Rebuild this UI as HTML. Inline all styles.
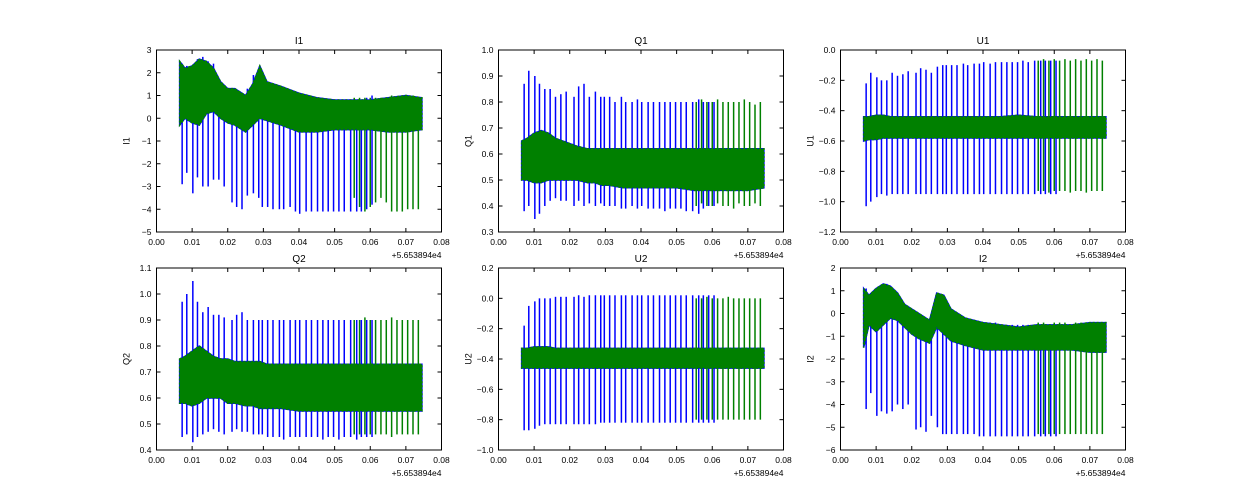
<!DOCTYPE html>
<html><head><meta charset="utf-8"><style>
body{margin:0;background:#fff;}
svg{display:block;font-family:"Liberation Sans",sans-serif;}
</style></head><body>
<svg id="chart" width="1250" height="500" viewBox="0 0 1250 500"></svg>
<script>
const xTicks=[0,0.01,0.02,0.03,0.04,0.05,0.06,0.07,0.08];
const blueX=[0.0072,0.0085,0.0102,0.0115,0.013,0.0145,0.016,0.0175,0.019,0.0212,0.0225,0.024,0.0255,0.0272,0.0287,0.0297,0.0312,0.0327,0.0345,0.0357,0.0375,0.039,0.0402,0.042,0.0435,0.0452,0.0467,0.0482,0.0497,0.0512,0.0527,0.0545,0.0562,0.0575,0.059,0.0605];
const greenX=[0.0555,0.057,0.0585,0.06,0.0615,0.063,0.0645,0.066,0.0675,0.069,0.0705,0.072,0.0735];
const bandX=[0.0065,0.008,0.01,0.012,0.014,0.016,0.018,0.02,0.022,0.025,0.027,0.029,0.031,0.035,0.04,0.045,0.05,0.055,0.06,0.065,0.07,0.0745];

const i1BandHi=[2.5,2.2,2.3,2.6,2.5,2.2,1.6,1.3,1.3,1.0,1.5,2.3,1.6,1.4,1.1,0.9,0.8,0.8,0.8,0.9,1.0,0.9];
const i1BandLo=[-0.3,0.0,-0.2,-0.3,0.2,0.3,0.0,-0.2,-0.3,-0.6,-0.3,0.0,-0.1,-0.3,-0.6,-0.6,-0.5,-0.5,-0.5,-0.6,-0.6,-0.5];
const i1BlueLo=[-2.9,-2.4,-3.3,-2.6,-3.0,-3.0,-2.7,-2.7,-3.0,-3.7,-3.9,-4.0,-3.4,-3.3,-3.5,-3.9,-3.9,-4.0,-4.0,-4.0,-3.9,-4.1,-4.2,-4.1,-4.1,-4.1,-4.1,-4.1,-4.1,-4.1,-4.1,-4.1,-4.1,-4.1,-4.0,-3.8];
const i1BlueHi=[2.4,2.3,2.2,2.6,2.7,2.5,2.4,1.5,1.2,1.1,1.0,1.0,1.3,1.9,1.5,1.3,1.2,1.1,1.0,1.0,1.0,0.9,0.9,0.9,0.9,0.8,0.8,0.8,0.8,0.8,0.8,0.8,0.8,0.8,0.9,1.0];
const i1GreenLo=[-3.5,-3.9,-4.1,-3.9,-3.7,-3.5,-3.7,-4.1,-4.1,-4.1,-4.0,-4.0,-4.0];
const i1GreenHi=[0.9,0.9,0.9,0.9,0.9,0.9,0.9,1.0,0.9,1.0,0.9,1.0,0.9];

const q1BandHi=[0.65,0.66,0.68,0.69,0.68,0.66,0.65,0.64,0.63,0.62,0.62,0.62,0.62,0.62,0.62,0.62,0.62,0.62,0.62,0.62,0.62,0.62];
const q1BandLo=[0.5,0.5,0.49,0.49,0.5,0.5,0.5,0.5,0.5,0.49,0.49,0.48,0.48,0.47,0.47,0.47,0.47,0.46,0.46,0.46,0.46,0.47];
const q1BlueHi=[0.87,0.92,0.9,0.87,0.85,0.85,0.82,0.83,0.84,0.82,0.86,0.87,0.82,0.84,0.82,0.82,0.82,0.8,0.82,0.8,0.8,0.81,0.8,0.8,0.8,0.8,0.8,0.8,0.8,0.8,0.8,0.8,0.81,0.8,0.8,0.8];
const q1BlueLo=[0.38,0.4,0.35,0.37,0.4,0.42,0.43,0.42,0.42,0.4,0.42,0.4,0.41,0.4,0.41,0.4,0.4,0.4,0.39,0.39,0.4,0.39,0.4,0.39,0.39,0.39,0.38,0.39,0.39,0.39,0.38,0.38,0.37,0.39,0.4,0.4];
const q1GreenHi=[0.8,0.81,0.8,0.8,0.81,0.8,0.8,0.8,0.8,0.81,0.8,0.79,0.8];
const q1GreenLo=[0.4,0.41,0.4,0.4,0.41,0.4,0.4,0.39,0.41,0.4,0.4,0.41,0.4];

const u1BandHi=[-0.44,-0.44,-0.43,-0.43,-0.44,-0.44,-0.44,-0.44,-0.44,-0.44,-0.44,-0.44,-0.44,-0.44,-0.44,-0.44,-0.43,-0.44,-0.44,-0.44,-0.44,-0.44];
const u1BandLo=[-0.6,-0.59,-0.59,-0.58,-0.58,-0.58,-0.58,-0.58,-0.58,-0.58,-0.58,-0.58,-0.58,-0.58,-0.58,-0.58,-0.58,-0.58,-0.58,-0.58,-0.58,-0.58];
const u1BlueHi=[-0.22,-0.15,-0.18,-0.2,-0.2,-0.15,-0.17,-0.16,-0.14,-0.15,-0.12,-0.13,-0.15,-0.11,-0.1,-0.1,-0.1,-0.1,-0.09,-0.1,-0.09,-0.09,-0.08,-0.09,-0.08,-0.08,-0.08,-0.08,-0.08,-0.07,-0.08,-0.07,-0.07,-0.07,-0.07,-0.07];
const u1BlueLo=[-1.03,-1.0,-0.97,-0.95,-0.96,-0.95,-0.95,-0.95,-0.95,-0.95,-0.95,-0.95,-0.95,-0.95,-0.95,-0.95,-0.95,-0.95,-0.95,-0.95,-0.95,-0.95,-0.95,-0.95,-0.95,-0.95,-0.95,-0.95,-0.95,-0.95,-0.95,-0.95,-0.95,-0.95,-0.95,-0.95];
const u1GreenHi=[-0.07,-0.06,-0.07,-0.06,-0.07,-0.06,-0.07,-0.06,-0.07,-0.06,-0.07,-0.06,-0.07];
const u1GreenLo=[-0.93,-0.93,-0.94,-0.93,-0.93,-0.93,-0.94,-0.93,-0.93,-0.94,-0.93,-0.93,-0.93];

const q2BandHi=[0.75,0.76,0.78,0.8,0.78,0.76,0.75,0.75,0.74,0.74,0.74,0.74,0.73,0.73,0.73,0.73,0.73,0.73,0.73,0.73,0.73,0.73];
const q2BandLo=[0.58,0.58,0.57,0.58,0.6,0.6,0.6,0.58,0.58,0.57,0.57,0.56,0.56,0.56,0.55,0.55,0.55,0.55,0.55,0.55,0.55,0.55];
const q2BlueHi=[0.97,1.0,1.05,0.97,0.93,0.95,0.92,0.92,0.91,0.9,0.92,0.93,0.9,0.9,0.9,0.9,0.9,0.9,0.9,0.9,0.9,0.9,0.9,0.9,0.9,0.9,0.9,0.9,0.9,0.9,0.9,0.9,0.9,0.9,0.9,0.9];
const q2BlueLo=[0.45,0.46,0.43,0.45,0.46,0.47,0.48,0.47,0.46,0.47,0.48,0.47,0.47,0.46,0.46,0.46,0.45,0.45,0.45,0.44,0.45,0.45,0.45,0.45,0.45,0.45,0.44,0.45,0.45,0.44,0.45,0.45,0.44,0.45,0.45,0.45];
const q2GreenHi=[0.9,0.9,0.91,0.9,0.9,0.9,0.9,0.91,0.9,0.9,0.9,0.9,0.9];
const q2GreenLo=[0.46,0.46,0.46,0.46,0.46,0.46,0.46,0.45,0.46,0.46,0.46,0.46,0.46];

const u2BandHi=[-0.33,-0.33,-0.32,-0.32,-0.32,-0.33,-0.33,-0.33,-0.33,-0.33,-0.33,-0.33,-0.33,-0.33,-0.33,-0.33,-0.33,-0.33,-0.33,-0.33,-0.33,-0.33];
const u2BandLo=[-0.46,-0.46,-0.46,-0.46,-0.46,-0.46,-0.46,-0.46,-0.46,-0.46,-0.46,-0.46,-0.46,-0.46,-0.46,-0.46,-0.46,-0.46,-0.46,-0.46,-0.46,-0.46];
const u2BlueHi=[-0.18,-0.05,-0.02,0.0,0.0,0.0,0.01,0.01,0.01,0.01,0.02,0.01,0.02,0.02,0.02,0.02,0.02,0.02,0.02,0.02,0.02,0.02,0.02,0.02,0.02,0.02,0.02,0.02,0.02,0.02,0.02,0.02,0.02,0.02,0.02,0.02];
const u2BlueLo=[-0.87,-0.87,-0.86,-0.84,-0.83,-0.83,-0.83,-0.83,-0.83,-0.83,-0.83,-0.83,-0.83,-0.83,-0.82,-0.82,-0.82,-0.82,-0.82,-0.82,-0.82,-0.82,-0.82,-0.82,-0.82,-0.82,-0.82,-0.82,-0.82,-0.82,-0.82,-0.82,-0.82,-0.82,-0.82,-0.82];
const u2GreenHi=[0.0,0.0,0.01,0.0,0.0,0.0,0.01,0.0,0.0,0.0,0.0,0.0,0.0];
const u2GreenLo=[-0.8,-0.8,-0.8,-0.8,-0.8,-0.8,-0.8,-0.8,-0.8,-0.8,-0.8,-0.8,-0.8];

const i2BandHi=[1.1,0.8,1.1,1.3,1.2,0.9,0.4,0.2,0.0,-0.3,0.9,0.8,0.2,-0.2,-0.4,-0.5,-0.6,-0.5,-0.5,-0.5,-0.4,-0.4];
const i2BandLo=[-1.5,-0.5,-0.8,-0.5,-0.2,-0.3,-0.6,-0.9,-1.1,-1.3,-0.6,-0.9,-1.2,-1.4,-1.6,-1.6,-1.6,-1.6,-1.6,-1.6,-1.7,-1.7];
const i2BlueHi=[1.1,0.9,1.0,1.2,1.3,1.0,0.6,0.3,0.2,0.0,-0.2,-0.3,0.0,0.6,0.8,0.5,0.2,0.0,-0.2,-0.3,-0.3,-0.4,-0.4,-0.4,-0.4,-0.5,-0.5,-0.5,-0.5,-0.5,-0.5,-0.5,-0.5,-0.5,-0.5,-0.5];
const i2BlueLo=[-4.2,-3.5,-4.5,-4.3,-4.4,-4.3,-4.0,-4.2,-4.0,-5.1,-5.0,-5.2,-4.5,-5.0,-5.3,-5.3,-5.3,-5.3,-5.3,-5.3,-5.3,-5.4,-5.4,-5.4,-5.4,-5.4,-5.4,-5.4,-5.4,-5.4,-5.4,-5.4,-5.4,-5.4,-5.4,-5.4];
const i2GreenHi=[-0.4,-0.4,-0.5,-0.4,-0.4,-0.4,-0.5,-0.4,-0.4,-0.4,-0.4,-0.4,-0.4];
const i2GreenLo=[-5.3,-5.3,-5.3,-5.3,-5.3,-5.3,-5.3,-5.3,-5.3,-5.3,-5.3,-5.3,-5.3];

const i1Ticks=[-5,-4,-3,-2,-1,0,1,2,3];
const q1Ticks=[0.3,0.4,0.5,0.6,0.7,0.8,0.9,1.0];
const u1Ticks=[-1.2,-1.0,-0.8,-0.6,-0.4,-0.2,0.0];
const q2Ticks=[0.4,0.5,0.6,0.7,0.8,0.9,1.0,1.1];
const u2Ticks=[-1.0,-0.8,-0.6,-0.4,-0.2,0.0,0.2];
const i2Ticks=[-6,-5,-4,-3,-2,-1,0,1,2];

const panels=[
 {t:"I1",id:"i1",L:156.5,T:50,ticks:i1Ticks,dec:0,bh:i1BandHi,bl:i1BandLo,bH:i1BlueHi,bL:i1BlueLo,gH:i1GreenHi,gL:i1GreenLo},
 {t:"Q1",id:"q1",L:498.5,T:50,ticks:q1Ticks,dec:1,bh:q1BandHi,bl:q1BandLo,bH:q1BlueHi,bL:q1BlueLo,gH:q1GreenHi,gL:q1GreenLo},
 {t:"U1",id:"u1",L:840.5,T:50,ticks:u1Ticks,dec:1,bh:u1BandHi,bl:u1BandLo,bH:u1BlueHi,bL:u1BlueLo,gH:u1GreenHi,gL:u1GreenLo},
 {t:"Q2",id:"q2",L:156.5,T:268,ticks:q2Ticks,dec:1,bh:q2BandHi,bl:q2BandLo,bH:q2BlueHi,bL:q2BlueLo,gH:q2GreenHi,gL:q2GreenLo},
 {t:"U2",id:"u2",L:498.5,T:268,ticks:u2Ticks,dec:1,bh:u2BandHi,bl:u2BandLo,bH:u2BlueHi,bL:u2BlueLo,gH:u2GreenHi,gL:u2GreenLo},
 {t:"I2",id:"i2",L:840.5,T:268,ticks:i2Ticks,dec:0,bh:i2BandHi,bl:i2BandLo,bH:i2BlueHi,bL:i2BlueLo,gH:i2GreenHi,gL:i2GreenLo}
];
const W=285,H=182;
const NS="http://www.w3.org/2000/svg";
const svg=document.getElementById('chart');
function mk(tag,attrs,parent,text){const e=document.createElementNS(NS,tag);for(const k in attrs)e.setAttribute(k,attrs[k]);if(text!==undefined)e.textContent=text;parent.appendChild(e);return e;}
function fmt(v,d){return (v<0?"\u2212":"")+Math.abs(v).toFixed(d);}
panels.forEach(p=>{
 const g=mk('g',{},svg);
 
 
 const ymin=p.ticks[0],ymax=p.ticks[p.ticks.length-1];
 const xs=v=>p.L+(v-0)/(0.08)*W;
 const ys=v=>p.T+H-(v-ymin)/(ymax-ymin)*H;
 const cp='clip-'+p.id;
 const defs=mk('defs',{},g);const c=mk('clipPath',{id:cp},defs);mk('rect',{x:p.L,y:p.T,width:W,height:H},c);
 const plot=mk('g',{'clip-path':'url(#'+cp+')'},g);
 let top=bandX.map((x,i)=>xs(x)+','+ys(p.bh[i])).join(' ');
 let bot=bandX.map((x,i)=>xs(x)+','+ys(p.bl[i])).reverse().join(' ');
 const bb=mk('polygon',{points:top+' '+bot,fill:'#0000ff',stroke:'#0000ff','stroke-width':1.5},plot);
 
 
 blueX.forEach((x,i)=>{
  const l=mk('line',{x1:xs(x),x2:xs(x),y1:ys(p.bH[i]),y2:ys(p.bL[i]),stroke:'#0000ff','stroke-width':1.5},plot);
  
  
 });
 const gb=mk('polygon',{points:top+' '+bot,fill:'#008000',stroke:'#008000','stroke-width':1.5,'stroke-dasharray':'2 2'},plot);
 
 
 greenX.forEach((x,i)=>{
  const l=mk('line',{x1:xs(x),x2:xs(x),y1:ys(p.gH[i]),y2:ys(p.gL[i]),stroke:'#008000','stroke-width':1.5},plot);
  
  
 });
 const fr=mk('rect',{x:p.L,y:p.T,width:W,height:H,fill:'none',stroke:'#000','stroke-width':1},g);
 
 
 xTicks.forEach(v=>{
  const x=xs(v);
  mk('line',{x1:x,x2:x,y1:p.T+H,y2:p.T+H-4,stroke:'#000'},g);
  mk('line',{x1:x,x2:x,y1:p.T,y2:p.T+4,stroke:'#000'},g);
  const t=mk('text',{x:x,y:p.T+H+13,'font-size':8.5,'text-anchor':'middle',fill:'#000'},g,v.toFixed(2));
  
  
 });
 p.ticks.forEach(v=>{
  const y=ys(v);
  mk('line',{x1:p.L,x2:p.L+4,y1:y,y2:y,stroke:'#000'},g);
  mk('line',{x1:p.L+W,x2:p.L+W-4,y1:y,y2:y,stroke:'#000'},g);
  const t=mk('text',{x:p.L-5,y:y+3,'font-size':8.5,'text-anchor':'end',fill:'#000'},g,fmt(v,p.dec));
  
  
 });
 const off=mk('text',{x:p.L+W,y:p.T+H+26,'font-size':8.5,'text-anchor':'end',fill:'#000'},g,'+5.653894e4');
 
 
 const ti=mk('text',{x:p.L+W/2,y:p.T-6,'font-size':10,'text-anchor':'middle',fill:'#000'},g,p.t);
 
 
 const yl=mk('text',{x:0,y:0,'font-size':9,'text-anchor':'middle',fill:'#000',transform:'translate('+(p.L-27)+','+(p.T+H/2)+') rotate(-90)'},g,p.t);
 
 
});
</script>
</body></html>
